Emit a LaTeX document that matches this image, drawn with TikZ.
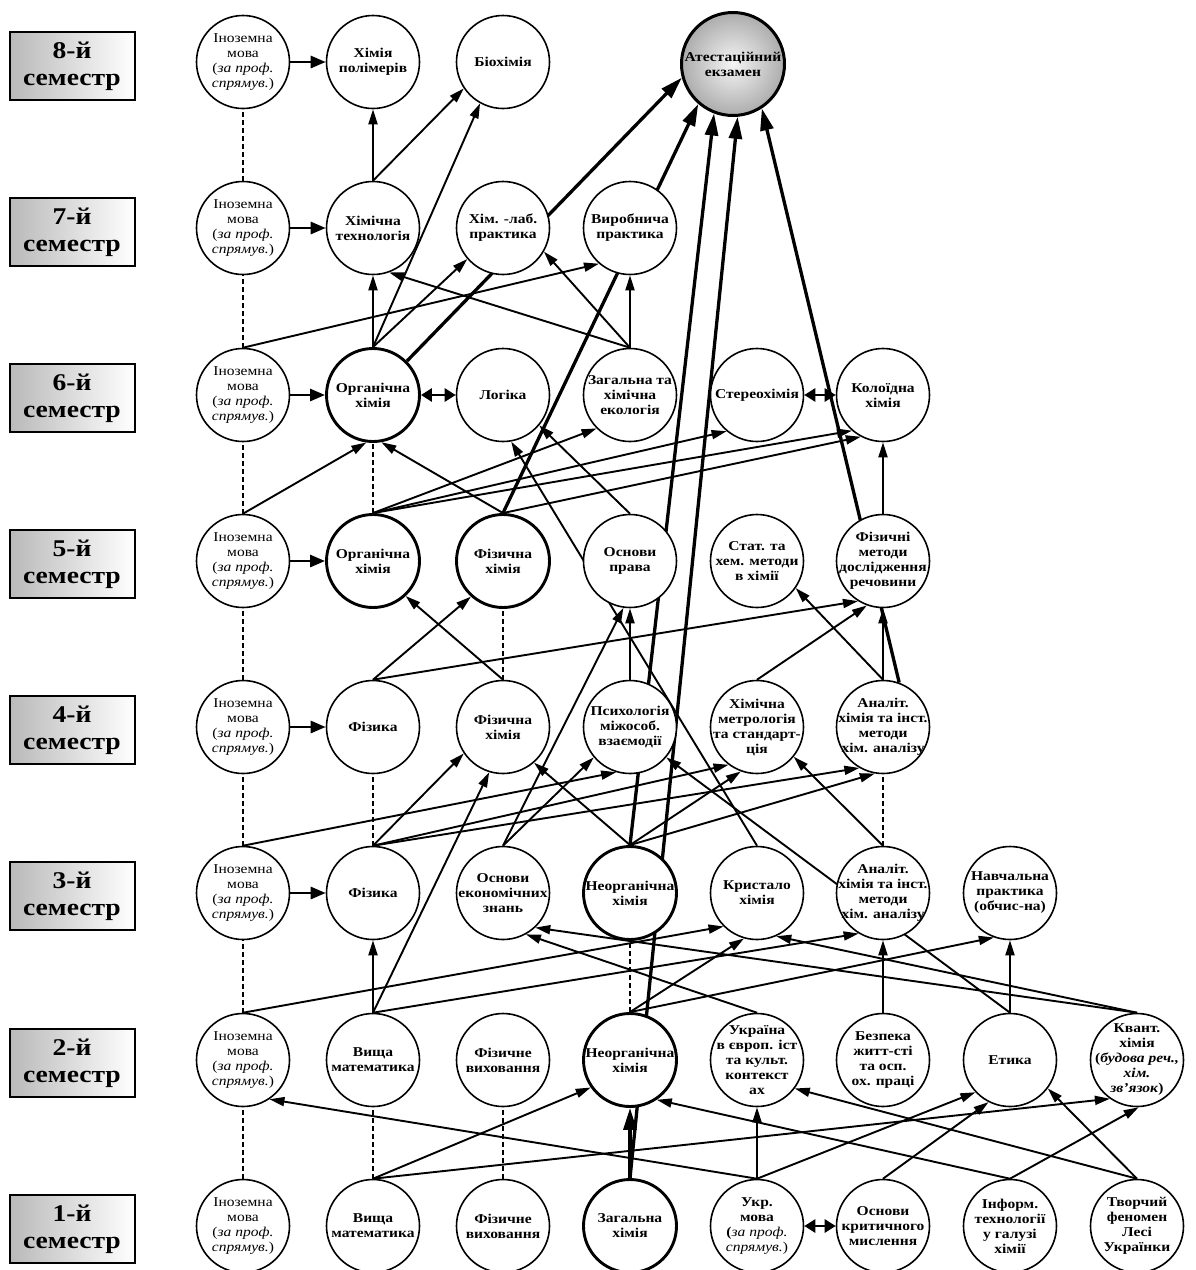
\documentclass[tikz,border=0pt]{standalone}
\usepackage{fontspec}
\setmainfont{Liberation Serif}[FakeStretch=1.15]
\usetikzlibrary{arrows.meta,shadings}
\pgfdeclarelayer{bg}
\pgfsetlayers{bg,main}
\tikzset{
 nd/.style={circle, draw, fill=white, line width=1.6pt, minimum size=93pt, inner sep=0pt},
 bnd/.style={nd, line width=2.9pt},
 lb/.style={align=center, inner sep=0pt, font=\bfseries\fontsize{13.5}{15}\selectfont},
 lbm/.style={align=center, inner sep=0pt, font=\mdseries\fontsize{13.5}{15}\selectfont},
 ar/.style={line width=1.9pt, -{Triangle[length=15pt,width=9pt]}},
 tar/.style={line width=3.3pt, -{Triangle[length=22pt,width=13pt]}},
 har/.style={line width=2.8pt, -{Triangle[length=15pt,width=12pt]}},
 dsh/.style={line width=1.9pt, dash pattern=on 5pt off 3pt},
 dbl/.style={line width=2.8pt, {Triangle[length=11pt,width=13pt]}-{Triangle[length=11pt,width=13pt]}},
 sem/.style={draw, line width=2pt, minimum width=125pt, minimum height=68pt, left color=gray!55, right color=white, align=center, font=\bfseries\fontsize{24}{27}\selectfont, inner sep=0pt},
}
\newcommand\inoz{Іноземна\\мова\\(\textit{за проф.}\\\textit{спрямув.})}
\begin{document}
\begin{tikzpicture}[x=1pt,y=-1pt]
\useasboundingbox (0,0) rectangle (1195,1270);
% semester boxes
\node[sem] (s8) at (72,66) {8-й\\семестр};
\node[sem] (s7) at (72,232) {7-й\\семестр};
\node[sem] (s6) at (72,398) {6-й\\семестр};
\node[sem] (s5) at (72,564) {5-й\\семестр};
\node[sem] (s4) at (72,730) {4-й\\семестр};
\node[sem] (s3) at (72,896) {3-й\\семестр};
\node[sem] (s2) at (72,1063) {2-й\\семестр};
\node[sem] (s1) at (72,1229) {1-й\\семестр};
% row 8
\node[nd, label={[lbm]center:{\inoz}}] (i8) at (243,62) {};
\node[nd, label={[lb]center:{Хімія\\полімерів}}] (hp8) at (373,62) {};
\node[nd, label={[lb]center:{Біохімія}}] (bio8) at (503,62) {};
\node[circle, draw, line width=3pt, minimum size=103pt, inner sep=0pt, inner color=gray!8, outer color=gray!65, label={[lb]center:{Атестаційний\\екзамен}}] (att) at (733,64) {};
% row 7
\node[nd, label={[lbm]center:{\inoz}}] (i7) at (243,228) {};
\node[nd, label={[lb]center:{Хімічна\\технологія}}] (ht7) at (373,228) {};
\node[nd, label={[lb]center:{Хім. -лаб.\\практика}}] (hl7) at (503,228) {};
\node[nd, label={[lb]center:{Виробнича\\практика}}] (vp7) at (630,228) {};
% row 6
\node[nd, label={[lbm]center:{\inoz}}] (i6) at (243,395) {};
\node[bnd, label={[lb]center:{Органічна\\хімія}}] (org6) at (373,395) {};
\node[nd, label={[lb]center:{Логіка}}] (log6) at (503,395) {};
\node[nd, label={[lb]center:{Загальна та\\хімічна\\екологія}}] (eco6) at (630,395) {};
\node[nd, label={[lb]center:{Стереохімія}}] (ster6) at (757,395) {};
\node[nd, label={[lb]center:{Колоїдна\\хімія}}] (kol6) at (883,395) {};
% row 5
\node[nd, label={[lbm]center:{\inoz}}] (i5) at (243,561) {};
\node[bnd, label={[lb]center:{Органічна\\хімія}}] (org5) at (373,561) {};
\node[bnd, label={[lb]center:{Фізична\\хімія}}] (fch5) at (503,561) {};
\node[nd, label={[lb]center:{Основи\\права}}] (pr5) at (630,561) {};
\node[nd, label={[lb]center:{Стат. та\\хем. методи\\в хімії}}] (stat5) at (757,561) {};
\node[nd, label={[lb]center:{Фізичні\\методи\\дослідження\\речовини}}] (fm5) at (883,561) {};
% row 4
\node[nd, label={[lbm]center:{\inoz}}] (i4) at (243,727) {};
\node[nd, label={[lb]center:{Фізика}}] (fiz4) at (373,727) {};
\node[nd, label={[lb]center:{Фізична\\хімія}}] (fch4) at (503,727) {};
\node[nd, label={[lb]center:{Психологія\\міжособ.\\взаємодії}}] (psy4) at (630,727) {};
\node[nd, label={[lb]center:{Хімічна\\метрологія\\та стандарт-\\ція}}] (hm4) at (757,727) {};
\node[nd, label={[lb]center:{Аналіт.\\хімія та інст.\\методи\\хім. аналізу}}] (an4) at (883,727) {};
% row 3
\node[nd, label={[lbm]center:{\inoz}}] (i3) at (243,893) {};
\node[nd, label={[lb]center:{Фізика}}] (fiz3) at (373,893) {};
\node[nd, label={[lb]center:{Основи\\економічних\\знань}}] (ek3) at (503,893) {};
\node[bnd, label={[lb]center:{Неорганічна\\хімія}}] (neo3) at (630,893) {};
\node[nd, label={[lb]center:{Кристало\\хімія}}] (kr3) at (757,893) {};
\node[nd, label={[lb]center:{Аналіт.\\хімія та інст.\\методи\\хім. аналізу}}] (an3) at (883,893) {};
\node[nd, label={[lb]center:{Навчальна\\практика\\(обчис-на)}}] (np3) at (1010,893) {};
% row 2
\node[nd, label={[lbm]center:{\inoz}}] (i2) at (243,1060) {};
\node[nd, label={[lb]center:{Вища\\математика}}] (vm2) at (373,1060) {};
\node[nd, label={[lb]center:{Фізичне\\виховання}}] (fv2) at (503,1060) {};
\node[bnd, label={[lb]center:{Неорганічна\\хімія}}] (neo2) at (630,1060) {};
\node[nd, label={[lb]center:{Україна\\в європ. іст\\та культ.\\контекст\\ах}}] (ukr2) at (757,1060) {};
\node[nd, label={[lb]center:{Безпека\\житт-сті\\та осп.\\ох. праці}}] (bzh2) at (883,1060) {};
\node[nd, label={[lb]center:{Етика}}] (et2) at (1010,1060) {};
\node[nd, label={[lb]center:{Квант.\\хімія\\(\textit{будова реч.,}\\\textit{хім.}\\\textit{зв'язок})}}] (kv2) at (1137,1060) {};
% row 1
\node[nd, label={[lbm]center:{\inoz}}] (i1) at (243,1226) {};
\node[nd, label={[lb]center:{Вища\\математика}}] (vm1) at (373,1226) {};
\node[nd, label={[lb]center:{Фізичне\\виховання}}] (fv1) at (503,1226) {};
\node[bnd, label={[lb]center:{Загальна\\хімія}}] (zh1) at (630,1226) {};
\node[nd, label={[lb]center:{Укр.\\мова\\(\mdseries\textit{за проф.}\\\mdseries\textit{спрямув.})}}] (um1) at (757,1226) {};
\node[nd, label={[lb]center:{Основи\\критичного\\мислення}}] (okm1) at (883,1226) {};
\node[nd, label={[lb]center:{Інформ.\\технології\\у галузі\\хімії}}] (inf1) at (1010,1226) {};
\node[nd, label={[lb]center:{Творчий\\феномен\\Лесі\\Українки}}] (tf1) at (1137,1226) {};

\begin{pgfonlayer}{bg}
% dashed continuations
\draw[dsh] (i1.north) -- (i2.south);
\draw[dsh] (i2.north) -- (i3.south);
\draw[dsh] (i3.north) -- (i4.south);
\draw[dsh] (i4.north) -- (i5.south);
\draw[dsh] (i5.north) -- (i6.south);
\draw[dsh] (i6.north) -- (i7.south);
\draw[dsh] (i7.north) -- (i8.south);
\draw[dsh] (vm1.north) -- (vm2.south);
\draw[dsh] (fv1.north) -- (fv2.south);
\draw[dsh] (neo2.north) -- (neo3.south);
\draw[dsh] (fiz3.north) -- (fiz4.south);
\draw[dsh] (fch4.north) -- (fch5.south);
\draw[dsh] (org5.north) -- (org6.south);
\draw[dsh] (an3.north) -- (an4.south);
% horizontal arrows
\draw[har] (i8.east) -- (hp8.west);
\draw[har] (i7.east) -- (ht7.west);
\draw[har] (i6.east) -- (org6.west);
\draw[har] (i5.east) -- (org5.west);
\draw[har] (i4.east) -- (fiz4.west);
\draw[har] (i3.east) -- (fiz3.west);
\draw[dbl] (org6.east) -- (log6.west);
\draw[dbl] (ster6.east) -- (kol6.west);
\draw[dbl] (um1.east) -- (okm1.west);
% row 1 -> 2
\draw[ar] (vm1.north) -- (neo2.215);
\draw[ar] (vm1.north) -- (kv2.235);
\draw[ar] (um1.north) -- (i2.304);
\draw[ar] (um1.north) -- (ukr2.south);
\draw[ar] (um1.north) -- (et2.223);
\draw[tar] (zh1.north) -- (neo2.south);
\draw[ar] (okm1.north) -- (et2.243);
\draw[ar] (inf1.north) -- (kv2.272);
\draw[ar] (inf1.north) -- (neo2.304);
\draw[ar] (tf1.north) -- (et2.323);
\draw[ar] (tf1.north) -- (ukr2.323);
% row 2 -> 3
\draw[ar] (i2.north) -- (kr3.225);
\draw[ar] (neo2.north) -- (kr3.254);
\draw[ar] (kv2.north) -- (kr3.294);
\draw[ar] (vm2.north) -- (an3.239);
\draw[ar] (neo2.north) -- (np3.250);
\draw[ar] (bzh2.north) -- (an3.south);
\draw[ar] (et2.north) -- (np3.south);
\draw[ar] (ukr2.north) -- (ek3.299);
\draw[ar] (kv2.north) -- (ek3.313);
\draw[ar] (vm2.north) -- (fiz3.south);
\draw[ar] (vm2.north) -- (fch4.253);
\draw[ar] (et2.north) -- (psy4.320);
% row 3 -> 4
\draw[ar] (fiz3.north) -- (fch4.214);
\draw[ar] (neo3.north) -- (fch4.311);
\draw[ar] (ek3.north) -- (psy4.220);
\draw[ar] (i3.north) -- (psy4.253);
\draw[ar] (fiz3.north) -- (hm4.233);
\draw[ar] (neo3.north) -- (hm4.250);
\draw[ar] (an3.north) -- (hm4.321);
\draw[ar] (fiz3.north) -- (an4.240);
\draw[ar] (neo3.north) -- (an4.260);
\draw[ar] (ek3.north) -- (pr5.262);
\draw[ar] (kr3.north) -- (log6.280);
% row 4 -> 5
\draw[ar] (fiz4.north) -- (fch5.228);
\draw[ar] (fiz4.north) -- (fm5.238);
\draw[ar] (fch4.north) -- (org5.313);
\draw[ar] (psy4.north) -- (pr5.south);
\draw[ar] (hm4.north) -- (fm5.250);
\draw[ar] (an4.north) -- (stat5.325);
\draw[ar] (an4.north) -- (fm5.south);
% row 5 -> 6
\draw[ar] (i5.north) -- (org6.262);
\draw[ar] (fch5.north) -- (org6.280);
\draw[ar] (org5.north) -- (eco6.225);
\draw[ar] (org5.north) -- (ster6.230);
\draw[ar] (org5.north) -- (kol6.229);
\draw[ar] (fch5.north) -- (kol6.242);
\draw[ar] (pr5.north) -- (log6.320);
\draw[ar] (fm5.north) -- (kol6.south);
% row 6 -> 7
\draw[ar] (org6.north) -- (ht7.south);
\draw[ar] (eco6.north) -- (ht7.290);
\draw[ar] (org6.north) -- (hl7.221);
\draw[ar] (eco6.north) -- (hl7.330);
\draw[ar] (eco6.north) -- (vp7.south);
\draw[ar] (i6.north) -- (vp7.229);
\draw[ar] (org6.north) -- (bio8.241);
% row 7 -> 8
\draw[ar] (ht7.north) -- (hp8.south);
\draw[ar] (ht7.north) -- (bio8.214);
% to the final exam
\draw[tar] (org6.45) -- (att.195);
\draw[tar] (fch5.north) -- (att.229);
\draw[tar] (neo3.north) -- (att.249);
\draw[tar] (zh1.north) -- (att.275);
\draw[tar] (an4.70) -- (att.303);
\end{pgfonlayer}
\end{tikzpicture}
\end{document}
